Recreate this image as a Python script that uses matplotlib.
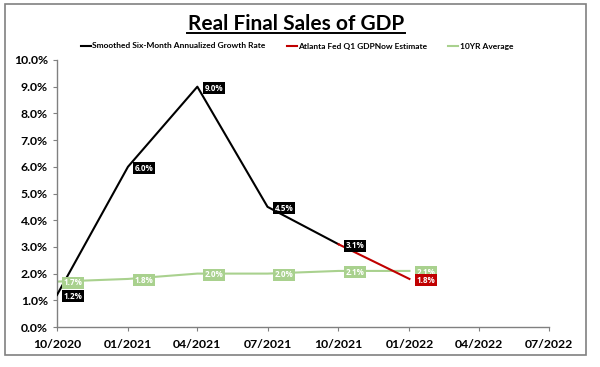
import matplotlib
matplotlib.use("Agg")
import matplotlib.pyplot as plt
import matplotlib.dates as mdates
from matplotlib.patches import Rectangle
from matplotlib.ticker import FuncFormatter
import datetime as dt

plt.rcParams['font.family'] = ['Lato', 'DejaVu Sans']

smoothed_dates = ["2020-10-01", "2021-01-01", "2021-04-01", "2021-07-01", "2021-10-01"]
smoothed_vals = [1.2, 6.0, 9.0, 4.5, 3.1]
gdpnow_dates = ["2021-10-01", "2022-01-01"]
gdpnow_vals = [3.1, 1.8]
avg_dates = ["2020-10-01", "2021-01-01", "2021-04-01", "2021-07-01", "2021-10-01", "2022-01-01"]
avg_vals = [1.7, 1.8, 2.0, 2.0, 2.1, 2.1]
tick_dates = ["2020-10-01", "2021-01-01", "2021-04-01", "2021-07-01",
              "2021-10-01", "2022-01-01", "2022-04-01", "2022-07-01"]

def D(s):
    return dt.datetime.strptime(s, "%Y-%m-%d")

BLACK = "#000000"
RED = "#c00000"
GREEN = "#a9d18e"

fig = plt.figure(figsize=(6.0, 3.67), dpi=100)
ax = fig.add_axes([57/600, 1-327/367, (549-57)/600, (327-60)/367])

sx = [D(s) for s in smoothed_dates]
rx = [D(s) for s in gdpnow_dates]
gx = [D(s) for s in avg_dates]

l1, = ax.plot(sx, smoothed_vals, color=BLACK, lw=1.5, zorder=3,
              label="Smoothed Six-Month Annualized Growth Rate")
l2, = ax.plot(rx, gdpnow_vals, color=RED, lw=1.5, zorder=3,
              label="Atlanta Fed Q1 GDPNow Estimate")
l3, = ax.plot(gx, avg_vals, color=GREEN, lw=1.5, zorder=2,
              label="10YR Average")

def lab(x, y, color, z):
    ax.annotate(f"{y:.1f}%", (x, y), xytext=(5, -1), textcoords="offset points",
                ha="left", va="center", fontsize=5.8, fontweight="bold", color="white",
                family=["Open Sans", "DejaVu Sans"],
                bbox=dict(boxstyle="square,pad=0.2", fc=color, ec="none"), zorder=z)

for x, y in zip(gx, avg_vals):
    lab(x, y, GREEN, 5)
for x, y in zip(sx, smoothed_vals):
    lab(x, y, BLACK, 6)
lab(rx[-1], gdpnow_vals[-1], RED, 7)

ax.set_ylim(0, 10)
ax.set_yticks(range(0, 11))
ax.yaxis.set_major_formatter(FuncFormatter(lambda v, p: f"{v:.1f}%"))
ticks = [D(s) for s in tick_dates]
ax.set_xlim(ticks[0], ticks[-1])
ax.set_xticks(ticks)
ax.xaxis.set_major_formatter(mdates.DateFormatter("%m/%Y"))

for s in ["top", "right"]:
    ax.spines[s].set_visible(False)
for s in ["left", "bottom"]:
    ax.spines[s].set_color("#808080")
    ax.spines[s].set_linewidth(1.0)
ax.tick_params(axis="both", color="#808080", length=3, width=0.8, labelsize=8.8)
ax.tick_params(axis="x", pad=6)
for t in ax.get_xticklabels() + ax.get_yticklabels():
    t.set_fontweight("bold")

fig.text(296/600, 1-24/367, "Real Final Sales of GDP", ha="center", va="center",
         fontsize=15, fontweight="bold", color="black")
fig.add_artist(plt.Line2D([187/600, 405/600], [1-32.5/367, 1-32.5/367], color="black", lw=1.4))

fig.legend(handles=[l1, l2, l3], loc="center", bbox_to_anchor=(297/600, 1-46/367),
           ncol=3, frameon=False, handlelength=1.2, handletextpad=0.2,
           columnspacing=2.5, prop=dict(weight="bold", size=6))

fig.add_artist(Rectangle((5/600, 1-355/367), (586-5)/600, (355-4)/367,
                         transform=fig.transFigure, fill=False, ec="#808080", lw=1.2))

fig.savefig("out.png", dpi=100)
